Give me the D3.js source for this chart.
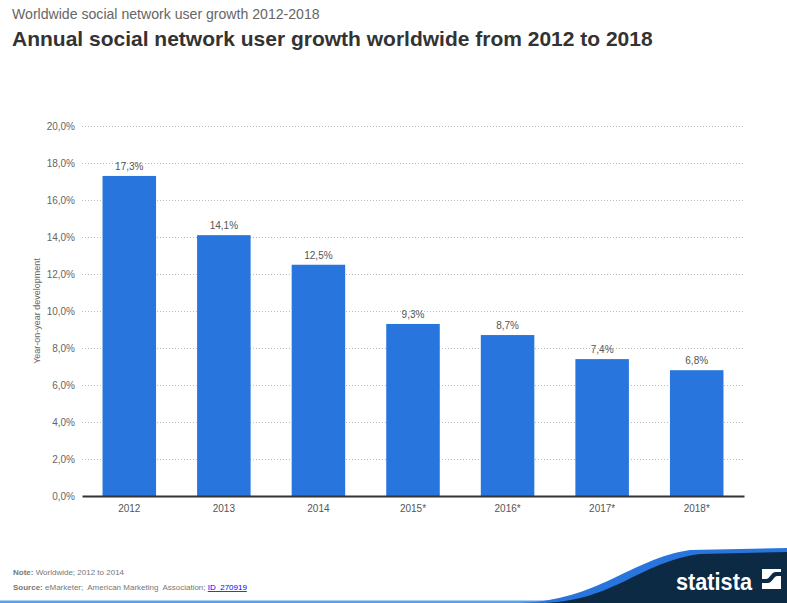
<!DOCTYPE html>
<html>
<head>
<meta charset="utf-8">
<script src="https://cdn.jsdelivr.net/npm/d3@7"></script>
<style>
  html, body { margin: 0; padding: 0; background: #fff; }
  svg { display: block; font-family: "Liberation Sans", Arial, sans-serif; }
</style>
</head>
<body>
<svg id="chart" width="787" height="603"></svg>
<script>
// Annual growth of social network users worldwide, in percent
const years = ["2012", "2013", "2014", "2015*", "2016*", "2017*", "2018*"];
const growth = [17.3, 14.1, 12.5, 9.3, 8.7, 7.4, 6.8];
const yTicks = [0, 2, 4, 6, 8, 10, 12, 14, 16, 18, 20];

const fmt = v => d3.format(".1f")(v).replace(".", ",") + "%";

const svg = d3.select("#chart");
const W = 787, H = 603;
const m = { left: 82, right: 43, top: 126, bottom: 107 };

const x = d3.scaleBand()
  .domain(years)
  .range([m.left, W - m.right])
  .paddingInner(0.434)
  .paddingOuter(0.217);

const y = d3.scaleLinear()
  .domain([0, 20])
  .range([H - m.bottom, m.top]);

// Header
svg.append("text")
  .attr("x", 12).attr("y", 19)
  .attr("font-size", 14.1).attr("fill", "#666")
  .text("Worldwide social network user growth 2012-2018");
svg.append("text")
  .attr("x", 12).attr("y", 46)
  .attr("font-size", 21).attr("font-weight", "bold").attr("fill", "#333")
  .text("Annual social network user growth worldwide from 2012 to 2018");

// Gridlines
svg.append("g")
  .selectAll("line")
  .data(yTicks.filter(d => d > 0))
  .join("line")
  .attr("x1", m.left).attr("x2", W - m.right)
  .attr("y1", d => y(d) + 0.5).attr("y2", d => y(d) + 0.5)
  .attr("stroke", "#bbb").attr("stroke-width", 1)
  .attr("stroke-dasharray", "1,2");

// Y axis labels
const yAxis = svg.append("g")
  .attr("transform", `translate(${m.left - 7},0)`)
  .call(d3.axisLeft(y).tickValues(yTicks).tickFormat(fmt).tickSize(0).tickPadding(0));
yAxis.select(".domain").remove();
yAxis.selectAll("text")
  .attr("font-family", "Liberation Sans, Arial, sans-serif")
  .attr("font-size", 10).attr("fill", "#666");

// Y axis title
svg.append("text")
  .attr("transform", `translate(40,${(y(0) + y(20)) / 2}) rotate(-90)`)
  .attr("text-anchor", "middle")
  .attr("font-size", 9).attr("fill", "#666")
  .text("Year-on-year development");

// Bars
svg.append("g")
  .selectAll("rect")
  .data(growth)
  .join("rect")
  .attr("x", (d, i) => x(years[i]))
  .attr("width", x.bandwidth())
  .attr("y", d => y(d))
  .attr("height", d => y(0) - y(d))
  .attr("fill", "#2876dd");

// Value labels
svg.append("g")
  .selectAll("text")
  .data(growth)
  .join("text")
  .attr("x", (d, i) => x(years[i]) + x.bandwidth() / 2)
  .attr("y", d => y(d) - 6)
  .attr("text-anchor", "middle")
  .attr("font-size", 10).attr("fill", "#555")
  .text(d => fmt(d));

// X axis
const xAxis = svg.append("g")
  .attr("transform", `translate(0,${y(0)})`)
  .call(d3.axisBottom(x).tickSize(0).tickPadding(9));
xAxis.select(".domain")
  .attr("stroke", "#333").attr("stroke-width", 2.2);
xAxis.selectAll("text")
  .attr("font-family", "Liberation Sans, Arial, sans-serif")
  .attr("font-size", 10).attr("fill", "#555");

// Footer notes
const note = svg.append("text").attr("x", 13).attr("y", 575).attr("font-size", 8).attr("fill", "#777");
note.append("tspan").attr("font-weight", "bold").text("Note: ");
note.append("tspan").text("Worldwide; 2012 to 2014");
const src = svg.append("text").attr("x", 13).attr("y", 590).attr("font-size", 8).attr("fill", "#777")
  .style("white-space", "pre");
src.append("tspan").attr("font-weight", "bold").text("Source: ");
src.append("tspan").text("eMarketer;\u00a0 American Marketing\u00a0 Association; ");
src.append("tspan").attr("fill", "#00f").attr("text-decoration", "underline").text("ID\u00a0 270919");

// Brand ribbon
svg.append("rect").attr("x", 0).attr("y", 600.5).attr("width", W).attr("height", 2.5).attr("fill", "#5aa0f0");
svg.append("path")
  .attr("d", "M520,603 C600,600 630,559 690,550 L787,548 L787,603 Z")
  .attr("fill", "#2876dd");
svg.append("path")
  .attr("d", "M545,603 C615,600 640,562 700,554 L787,552 L787,603 Z")
  .attr("fill", "#0d2a45");
svg.append("text")
  .attr("x", 676).attr("y", 590)
  .attr("font-size", 24).attr("font-weight", "bold").attr("fill", "#fff")
  .attr("textLength", 76).attr("lengthAdjust", "spacingAndGlyphs")
  .text("statista");
// Logo mark
const lg = svg.append("g").attr("transform", "translate(762,569)");
lg.append("rect").attr("width", 19).attr("height", 20).attr("fill", "#fff");
lg.append("path")
  .attr("d", "M0,14 L6,14 C10,14 11,8 15,7 L19,7 L19,3 L14,3 C9,3 8,10 4,10 L0,10 Z")
  .attr("fill", "#0d2a45");
</script>
</body>
</html>
